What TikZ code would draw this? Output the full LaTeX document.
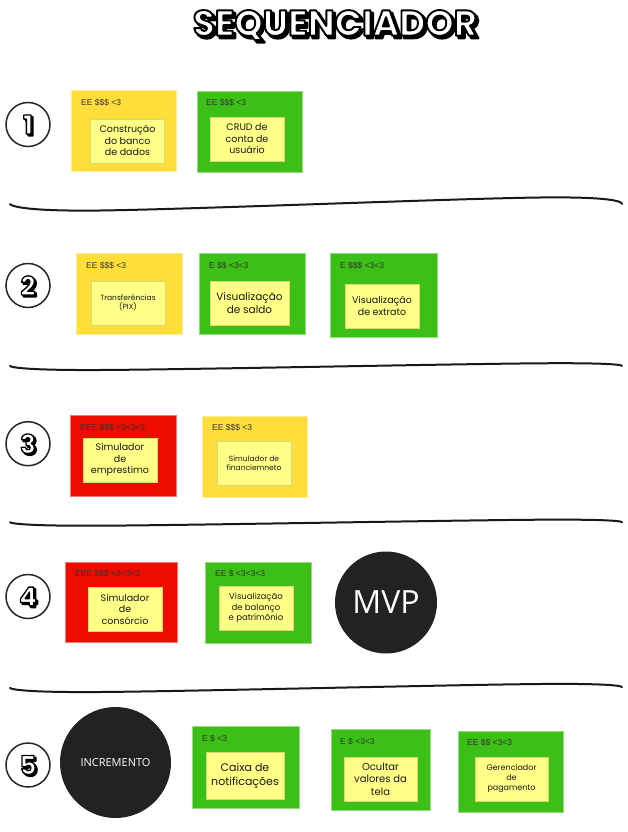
\documentclass[tikz,border=0pt]{standalone}
\usepackage{fontspec}
\usepackage{tikz}
\usetikzlibrary{calc}
\newfontfamily\titlefont{Poppins}
\newfontfamily\notefont{Poppins}
\newfontfamily\headfont{Liberation Sans}
\newfontfamily\discfont{Open Sans}
\definecolor{cardyellow}{HTML}{FFDE3B}
\definecolor{cardgreen}{HTML}{3CBF16}
\definecolor{cardred}{HTML}{EE0B00}
\definecolor{noteyellow}{HTML}{FFFF88}
\definecolor{headgray}{HTML}{333333}
\definecolor{notetext}{HTML}{1A1A1A}
\definecolor{disc}{HTML}{222222}
% glyphs filled in the text colour and stroked in black
\newcommand{\outlined}[2]{\special{pdf:code 2 Tr #1 w 0 G 1 j}#2\special{pdf:code 0 Tr}}

\begin{document}
\begin{tikzpicture}[x=1pt,y=-1pt]
        \tikzstyle{card} = [inner sep=0pt,minimum width=105pt,minimum height=81pt]
        \tikzstyle{yellowcard} = [card,fill=cardyellow,draw=cardyellow!55!white]
        \tikzstyle{greencard} = [card,fill=cardgreen,draw=cardgreen!55!white]
        \tikzstyle{redcard} = [card,fill=cardred,draw=cardred!55!white]
        \tikzstyle{header} = [anchor=west,inner sep=0pt,text=headgray,font=\headfont\fontsize{8.5}{10}\selectfont]
        \tikzstyle{note} = [fill=noteyellow,draw=noteyellow!85!black,line width=0.3pt,inner sep=0pt,minimum width=74pt,minimum height=44pt,align=center,text=notetext,font=\notefont\fontsize{9.5}{11.5}\selectfont]
        \tikzstyle{smallnote} = [note,font=\notefont\fontsize{7.5}{9}\selectfont]
        \tikzstyle{disc} = [circle,fill=disc,inner sep=0pt,text=white]
        \tikzstyle{rowcircle} = [circle,draw=black!85,line width=1.5pt,minimum size=44pt,inner sep=0pt]
        \tikzstyle{rownum} = [inner sep=0pt,font=\titlefont\bfseries\fontsize{26}{26}\selectfont]
        \tikzstyle{titletext} = [inner sep=0pt,font=\titlefont\bfseries\fontsize{36}{36}\selectfont]
        \tikzstyle{sepline} = [line width=2pt,line cap=round,black!90]
        %
        \useasboundingbox[fill=white] (0,0) rectangle (628,832);
        % Title, outlined with a drop shadow.
        \node[titletext,text=black] (titleshadow) at (337.5,27.5) {\outlined{2.4}{SEQUENCIADOR}};
        \node[titletext,text=white] (title) at (335,25) {\outlined{1.9}{SEQUENCIADOR}};
        % Row numbers.
        \foreach \n/\y in {1/124.5,2/285.5,3/443.7,4/596.5,5/765} {
            \node[rowcircle] (R\n) at (28,\y) {};
            \node[rownum,text=black] at ($(R\n)+(1.8,1.8)$) {\outlined{1.6}{\n}};
            \node[rownum,text=white] at (R\n) {\outlined{1.3}{\n}};
        }
        % Separators.
        \foreach \ya/\yb/\yc/\yd in {204/210.5/197.5/204,366/370/363.3/366,522.3/525.7/519.7/522.3,688/692/684/687.3}
            \draw[sepline] plot[smooth,tension=0.6] coordinates {(10,\ya) (100,\yb) (540,\yc) (622,\yd)};
        %
        % First row.
        \node[yellowcard] (C11) at (123.5,131) {};
        \node[header] (L11) at (81,103) {EE \$\$\$ <3};
        \node[note] (N11) at (127.5,141) {Construção\\do banco\\de dados};
        \node[greencard] (C12) at (249.5,131.5) {};
        \node[header] (L12) at (206,103) {EE \$\$\$ <3};
        \node[note] (N12) at (247,139) {CRUD de\\conta de\\usuário};
        % Second row.
        \node[yellowcard,minimum width=106pt] (C21) at (129,293.5) {};
        \node[header] (L21) at (86,265.5) {EE \$\$\$ <3};
        \node[smallnote] (N21) at (128,303) {Transferências\\(PIX)};
        \node[greencard,minimum width=106pt] (C22) at (252,294) {};
        \node[header] (L22) at (209,265.5) {E \$\$ <3<3};
        \node[note,minimum width=79pt,font=\notefont\fontsize{10.5}{13}\selectfont] (N22) at (249.5,303.5) {Visualização\\de saldo};
        \node[greencard,minimum width=107pt,minimum height=84pt] (C23) at (383.5,295) {};
        \node[header] (L23) at (340,265.5) {E \$\$\$ <3<3};
        \node[note] (N23) at (382,306) {Visualização\\de extrato};
        % Third row.
        \node[redcard,minimum width=106pt] (C31) at (123,456) {};
        \node[header] (L31) at (80,428) {EEE \$\$\$ <3<3<3};
        \node[note] (N31) at (120,460) {Simulador\\de\\emprestimo};
        \node[yellowcard] (C32) at (254.5,456.5) {};
        \node[header] (L32) at (212,428) {EE \$\$\$ <3};
        \node[smallnote] (N32) at (254,463) {Simulador de\\financiemneto};
        % Fourth row.
        \node[redcard,minimum width=112pt,minimum height=80pt] (C41) at (121,602) {};
        \node[header] (L41) at (75,574) {EEE \$\$\$ <3<3<3};
        \node[note] (N41) at (125,609) {Simulador\\de\\consórcio};
        \node[greencard,minimum width=106pt] (C42) at (258,602.5) {};
        \node[header] (L42) at (215,574) {EE \$ <3<3<3};
        \node[note,font=\notefont\fontsize{8.5}{10.5}\selectfont] (N42) at (256,608) {Visualização\\de balanço\\e patrimônio};
        \node[disc,minimum size=102pt,font=\discfont\fontsize{32}{32}\selectfont] (mvp) at (386,602.5) {MVP};
        % Fifth row.
        \node[disc,minimum size=111pt,font=\discfont\fontsize{11}{13}\selectfont] (incr) at (115.5,762.5) {INCREMENTO};
        \node[greencard,minimum width=107pt,minimum height=82pt] (C51) at (245.5,767) {};
        \node[header] (L51) at (202,739) {E \$ <3};
        \node[note,minimum width=78pt,minimum height=47pt,font=\notefont\fontsize{11}{14}\selectfont] (N51) at (245,775.5) {Caixa de\\notificações};
        \node[greencard,minimum width=99pt] (C52) at (380.5,769.5) {};
        \node[header] (L52) at (340,742) {E \$ <3<3};
        \node[note,minimum width=73pt,font=\notefont\fontsize{10}{12.5}\selectfont] (N52) at (380.5,779) {Ocultar\\valores da\\tela};
        \node[greencard] (C53) at (510.5,771.5) {};
        \node[header] (L53) at (467,743) {EE \$\$ <3<3};
        \node[smallnote,minimum width=73pt,font=\notefont\fontsize{8}{10}\selectfont] (N53) at (511.5,779) {Gerenciador\\de\\pagamento};
        %
\end{tikzpicture}
\end{document}
